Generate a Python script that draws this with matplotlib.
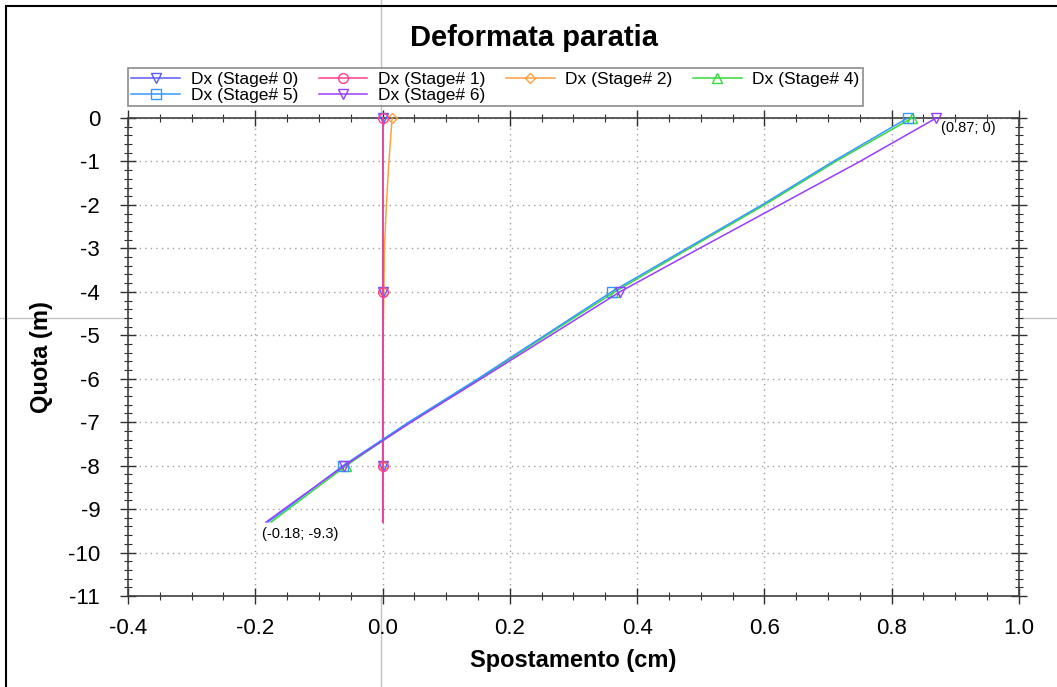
import matplotlib
matplotlib.use("Agg")
import matplotlib.pyplot as plt
from matplotlib.lines import Line2D
from matplotlib.ticker import MultipleLocator, FormatStrFormatter

plt.rcParams['font.family'] = ['Liberation Sans', 'DejaVu Sans']

# Depth nodes (m)
quota = [0, -1, -2, -3, -4, -5, -6, -7, -8, -9, -9.3]

# Displacements (cm) per stage
dx_stage0 = [0.0, 0.0, 0.0, 0.0, 0.0, 0.0, 0.0, 0.0, 0.0, 0.0, 0.0]
dx_stage1 = [0.0, 0.0, 0.0, 0.0, 0.0, 0.0, 0.0, 0.0, 0.0, 0.0, 0.0]
dx_stage2 = [0.015, 0.010, 0.006, 0.003, 0.002, 0.001, 0.0, 0.0, 0.0, 0.0, 0.0]
dx_stage4 = [0.832, 0.712, 0.600, 0.482, 0.365, 0.258, 0.152, 0.043, -0.057, -0.148, -0.175]
dx_stage5 = [0.825, 0.708, 0.596, 0.478, 0.360, 0.255, 0.150, 0.041, -0.062, -0.152, -0.180]
dx_stage6 = [0.870, 0.750, 0.624, 0.498, 0.373, 0.264, 0.155, 0.045, -0.060, -0.155, -0.183]

labels = ["Dx (Stage# 0)", "Dx (Stage# 1)", "Dx (Stage# 2)",
          "Dx (Stage# 4)", "Dx (Stage# 5)", "Dx (Stage# 6)"]
series = [dx_stage0, dx_stage1, dx_stage2, dx_stage4, dx_stage5, dx_stage6]
colors = ["#5a5aff", "#ff3d8f", "#ffa040", "#3ad83a", "#3398ff", "#9a3cff"]
markers = ["v", "o", "D", "^", "s", "v"]
msizes = [7, 7, 5, 7, 7, 7]
zorders = [3.2, 3.3, 3.1, 3.4, 3.5, 3.6]

fig = plt.figure(figsize=(10.57, 6.87), dpi=100)
ax = fig.add_axes([0.1211, 0.1325, 0.8429, 0.6957])

handles = []
for s, lab, c, m, ms, z in zip(series, labels, colors, markers, msizes, zorders):
    h, = ax.plot(s, quota, color=c, lw=1.1, marker=m, markersize=ms,
                 markerfacecolor='none', markeredgecolor=c, markeredgewidth=1.0,
                 markevery=[0, 4, 8], label=lab, clip_on=False, zorder=z)
    handles.append(h)

ax.set_xlim(-0.4, 1.0)
ax.set_ylim(-11, 0)
ax.xaxis.set_major_locator(MultipleLocator(0.2))
ax.xaxis.set_minor_locator(MultipleLocator(0.05))
ax.yaxis.set_major_locator(MultipleLocator(1))
ax.yaxis.set_minor_locator(MultipleLocator(0.2))
ax.xaxis.set_major_formatter(FormatStrFormatter('%.1f'))
ax.yaxis.set_major_formatter(FormatStrFormatter('%d'))

ax.tick_params(which='both', direction='inout', top=True, right=True,
               labeltop=False, labelright=False, color='#303030')
ax.tick_params(which='major', length=12, width=1.0, labelsize=16)
ax.tick_params(axis='x', which='major', pad=10)
ax.tick_params(axis='y', which='major', pad=14)
ax.tick_params(which='minor', length=6, width=0.8)
for sp in ax.spines.values():
    sp.set_color('#404040')
    sp.set_linewidth(1.2)

ax.grid(True, which='major', color='#a0a0a0', linestyle=(0, (1, 3)), linewidth=1.0)
ax.set_axisbelow(True)

ax.set_xlabel("Spostamento (cm)", fontsize=17, fontweight='bold', labelpad=7)
ax.set_ylabel("Quota (m)", fontsize=17, fontweight='bold', labelpad=11)
fig.text(0.505, 0.945, "Deformata paratia", fontsize=21, fontweight='bold',
         ha='center', va='center')

ax.text(0.878, -0.22, "(0.87; 0)", fontsize=10.5, ha='left', va='center')
ax.text(-0.19, -9.58, "(-0.18; -9.3)", fontsize=10.5, ha='left', va='center')

# legend filled row by row (matplotlib fills column-wise)
order = [0, 4, 1, 5, 2, 3]
leg = fig.legend(handles=[handles[i] for i in order], loc='upper left',
                 bbox_to_anchor=(0.1211, 1 - 68/687),
                 ncol=4, fontsize=12.5, frameon=True, fancybox=False,
                 handlelength=2.8, handletextpad=0.6, columnspacing=1.2,
                 borderpad=0.2, labelspacing=0.05, numpoints=1, borderaxespad=0)
leg.get_frame().set_edgecolor('#707070')
leg.get_frame().set_linewidth(1.2)

# cursor crosshair
fig.add_artist(Line2D([381/1057, 381/1057], [0, 1], transform=fig.transFigure,
                      color='#c4c4c4', lw=1.0, zorder=0))
fig.add_artist(Line2D([0, 1], [1 - 318/687, 1 - 318/687], transform=fig.transFigure,
                      color='#c4c4c4', lw=1.0, zorder=0))
# window border (top and left)
fig.add_artist(Line2D([6/1057, 1], [1 - 6/687, 1 - 6/687], transform=fig.transFigure,
                      color='black', lw=1.5))
fig.add_artist(Line2D([6/1057, 6/1057], [0, 1 - 6/687], transform=fig.transFigure,
                      color='black', lw=1.5))

fig.savefig("out.png", dpi=100)
